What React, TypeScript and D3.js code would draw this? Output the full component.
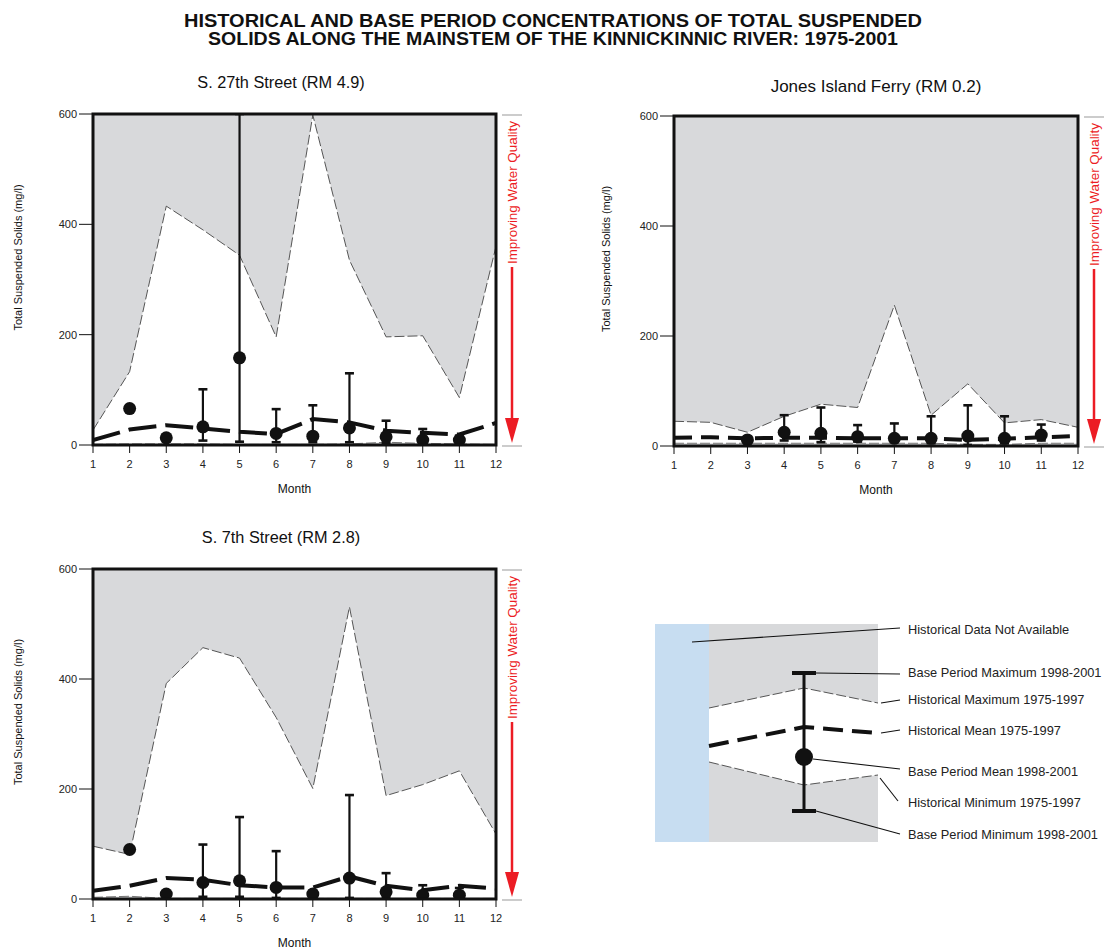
import React from "react";
import * as d3 from "d3";

// ---------- DATA ----------
const months = [1, 2, 3, 4, 5, 6, 7, 8, 9, 10, 11, 12];
const yTicks = [0, 200, 400, 600];

const s27HistMax = [27, 133, 433, 390, 344, 196, 598, 335, 196, 198, 86, 360];
const s27HistMean = [9, 28, 36, 30, 24, 20, 47, 41, 26, 22, 19, 40];
const s27HistMin = [1, 2, 2, 2, 1, 1, 1, 2, 5, 3, 2, 1];
const s27BaseMean = [null, 66, 13, 33, 158, 21, 16, 31, 15, 9, 9, null];
const s27BaseMax = [null, null, null, 101, 600, 65, 72, 130, 44, 29, 17, null];
const s27BaseMin = [null, null, null, 8, 6, 5, 5, 5, 4, 2, 3, null];

const jonesHistMax = [45, 43, 25, 54, 76, 70, 256, 56, 113, 42, 48, 34];
const jonesHistMean = [15, 16, 14, 15, 15, 14, 14, 14, 11, 13, 16, 18];
const jonesHistMin = [5, 5, 5, 5, 5, 5, 5, 5, 3, 3, 5, 5];
const jonesBaseMean = [null, null, 11, 25, 23, 17, 14, 14, 18, 14, 20, null];
const jonesBaseMax = [null, null, null, 56, 70, 38, 41, 54, 74, 54, 39, null];
const jonesBaseMin = [null, null, null, 10, 7, 8, 7, 5, 2, 5, 10, null];

const s7HistMax = [96, 81, 392, 457, 438, 330, 201, 531, 188, 208, 233, 118];
const s7HistMean = [15, 24, 38, 35, 25, 21, 21, 41, 24, 16, 24, 19];
const s7HistMin = [3, 5, 1, 1, 1, 1, 1, 1, 1, 1, 1, 1];
const s7BaseMean = [null, 90, 9, 30, 33, 21, 9, 38, 13, 7, 7, null];
const s7BaseMax = [null, null, null, 99, 149, 87, 15, 189, 47, 25, 20, null];
const s7BaseMin = [null, null, null, 4, 4, 2, 3, 2, 2, 2, 2, null];

// legend schematic values (3 points)
const legendX = [0, 1, 2];
const legendHistMax = [134, 154, 139];
const legendHistMean = [96, 115, 109];
const legendHistMin = [80, 57, 67];
const legendBase = { max: 169, mean: 85, min: 31 };

const titleLines = [
  "HISTORICAL AND BASE PERIOD CONCENTRATIONS OF TOTAL SUSPENDED",
  "SOLIDS ALONG THE MAINSTEM OF THE KINNICKINNIC RIVER: 1975-2001",
];
const titleWidths = [738, 690];

// ---------- STYLE ----------
const FONT = "'Liberation Sans', Arial, Helvetica, sans-serif";
const GRAY = "#d8d9db";
const RED = "#ec1c24";
const BLUE = "#c7ddf1";

type PanelProps = {
  title: string;
  left: number; right: number; top: number; bottom: number;
  titleX: number; titleY: number; titleSize: number; labelX: number;
  histMax: number[]; histMean: number[]; histMin: number[];
  baseMean: (number | null)[]; baseMax: (number | null)[]; baseMin: (number | null)[];
  meanDash: string;
};

function Panel(p: PanelProps) {
  const x = d3.scaleLinear().domain([1, 12]).range([p.left, p.right]);
  const y = d3.scaleLinear().domain([0, 600]).range([p.bottom, p.top]);
  const area = d3.area<number>()
    .x((_, i) => x(months[i]))
    .y0((_, i) => y(p.histMin[i]))
    .y1((_, i) => y(p.histMax[i]));
  const line = (arr: number[]) =>
    d3.line<number>().x((_, i) => x(months[i])).y((d) => y(d))(arr) as string;
  const arrowX = p.right + 16;
  const textStart = p.top + 150;
  const midY = (p.top + p.bottom) / 2;
  const clipId = "clip" + p.left + "_" + p.top;
  return (
    <g>
      <text x={p.titleX} y={p.titleY} textAnchor="middle" fontSize={p.titleSize} fontFamily={FONT} fill="#111">{p.title}</text>
      <defs>
        <clipPath id={clipId}>
          <rect x={p.left} y={p.top} width={p.right - p.left} height={p.bottom - p.top} />
        </clipPath>
      </defs>
      <rect x={p.left} y={p.top} width={p.right - p.left} height={p.bottom - p.top} fill={GRAY} />
      <g clipPath={`url(#${clipId})`}>
        <path d={area(p.histMax) as string} fill="#fff" />
        <path d={line(p.histMax)} fill="none" stroke="#444" strokeWidth={0.9} strokeDasharray="10 3" />
        <path d={line(p.histMin)} fill="none" stroke="#666" strokeWidth={0.9} strokeDasharray="10 3" />
        <path d={line(p.histMean)} fill="none" stroke="#111" strokeWidth={4} strokeDasharray={p.meanDash} />
        {months.map((m, i) => {
          const mx = p.baseMax[i], mn = p.baseMin[i];
          if (mx == null || mn == null) return null;
          return (
            <g key={"e" + m}>
              <line x1={x(m)} x2={x(m)} y1={y(mx)} y2={y(mn)} stroke="#111" strokeWidth={2.2} />
              <line x1={x(m) - 4.5} x2={x(m) + 4.5} y1={y(mx)} y2={y(mx)} stroke="#111" strokeWidth={2.6} />
              <line x1={x(m) - 4.5} x2={x(m) + 4.5} y1={y(mn)} y2={y(mn)} stroke="#111" strokeWidth={2.6} />
            </g>
          );
        })}
        {months.map((m, i) => {
          const v = p.baseMean[i];
          if (v == null) return null;
          return <circle key={"c" + m} cx={x(m)} cy={y(v)} r={6.5} fill="#111" />;
        })}
      </g>
      <rect x={p.left} y={p.top} width={p.right - p.left} height={p.bottom - p.top} fill="none" stroke="#111" strokeWidth={3} />
      {yTicks.map((t) => (
        <g key={"y" + t}>
          <line x1={p.left - 14} x2={p.left} y1={y(t)} y2={y(t)} stroke="#111" strokeWidth={1} />
          <text x={p.left - 16} y={y(t) + 4} textAnchor="end" fontSize={11} fontFamily={FONT} fill="#222">{t}</text>
        </g>
      ))}
      {months.map((m) => (
        <g key={"x" + m}>
          <line x1={x(m)} x2={x(m)} y1={p.bottom} y2={p.bottom + 8} stroke="#111" strokeWidth={1} />
          <text x={x(m)} y={p.bottom + 23} textAnchor="middle" fontSize={11} fontFamily={FONT} fill="#222">{m}</text>
        </g>
      ))}
      <text x={(p.left + p.right) / 2} y={p.bottom + 48} textAnchor="middle" fontSize={12} fontFamily={FONT} fill="#111">Month</text>
      <text transform={`translate(${p.labelX + 4},${midY - 22}) rotate(-90)`} textAnchor="middle" fontSize={11} fontFamily={FONT} fill="#111">Total Suspended Solids (mg/l)</text>
      {/* improving water quality */}
      <line x1={p.right + 6} x2={p.right + 26} y1={p.top + 1} y2={p.top + 1} stroke="#999" strokeWidth={1} />
      <line x1={p.right + 6} x2={p.right + 26} y1={p.bottom + 1} y2={p.bottom + 1} stroke="#999" strokeWidth={1} />
      <text transform={`translate(${arrowX + 4.5},${textStart}) rotate(-90)`} textAnchor="start" fontSize={12.5} textLength={143} lengthAdjust="spacingAndGlyphs" fontFamily={FONT} fill={RED}>Improving Water Quality</text>
      <line x1={arrowX} x2={arrowX} y1={textStart + 3} y2={p.bottom - 22} stroke={RED} strokeWidth={2.5} />
      <path d={`M${arrowX - 7},${p.bottom - 27} L${arrowX + 7},${p.bottom - 27} L${arrowX},${p.bottom - 2} Z`} fill={RED} />
    </g>
  );
}

function Legend() {
  const gx0 = 709, gx1 = 878;
  const x = d3.scaleLinear().domain([0, 1, 2]).range([gx0, 804, gx1]);
  const y = d3.scaleLinear().domain([0, 218]).range([842, 624]);
  const ln = (arr: number[]) => d3.line<number>().x((_, i) => x(legendX[i])).y((d) => y(d))(arr) as string;
  const ar = d3.area<number>().x((_, i) => x(legendX[i])).y0((_, i) => y(legendHistMin[i])).y1((d) => y(d));
  const bx = x(1);
  const labels = [
    { t: "Historical Data Not Available", y: 634 },
    { t: "Base Period Maximum 1998-2001", y: 677 },
    { t: "Historical Maximum 1975-1997", y: 704 },
    { t: "Historical Mean 1975-1997", y: 735 },
    { t: "Base Period Mean 1998-2001", y: 776 },
    { t: "Historical Minimum 1975-1997", y: 807 },
    { t: "Base Period Minimum 1998-2001", y: 839 },
  ];
  return (
    <g>
      <rect x={655} y={y(218)} width={gx0 - 655} height={y(0) - y(218)} fill={BLUE} />
      <rect x={gx0} y={y(218)} width={gx1 - gx0} height={y(0) - y(218)} fill={GRAY} />
      <path d={ar(legendHistMax) as string} fill="#fff" />
      <path d={ln(legendHistMax)} fill="none" stroke="#444" strokeWidth={0.9} strokeDasharray="10 3" />
      <path d={ln(legendHistMin)} fill="none" stroke="#444" strokeWidth={0.9} strokeDasharray="10 3" />
      <path d={ln(legendHistMean)} fill="none" stroke="#111" strokeWidth={4} strokeDasharray="20 9" />
      <line x1={bx} x2={bx} y1={y(legendBase.max)} y2={y(legendBase.min)} stroke="#111" strokeWidth={3} />
      <line x1={bx - 12} x2={bx + 12} y1={y(legendBase.max)} y2={y(legendBase.max)} stroke="#111" strokeWidth={4} />
      <line x1={bx - 12} x2={bx + 12} y1={y(legendBase.min)} y2={y(legendBase.min)} stroke="#111" strokeWidth={4} />
      <circle cx={bx} cy={y(legendBase.mean)} r={9} fill="#111" />
      {/* leader lines */}
      <g stroke="#111" strokeWidth={1.1}>
        <line x1={692} y1={642} x2={900} y2={628} />
        <line x1={bx + 12} y1={y(legendBase.max)} x2={900} y2={674} />
        <line x1={881} y1={703} x2={900} y2={700} />
        <line x1={881} y1={733} x2={900} y2={730} />
        <line x1={bx + 9} y1={y(legendBase.mean) + 2} x2={900} y2={769} />
        <line x1={880} y1={778} x2={898} y2={801} />
        <line x1={bx + 12} y1={y(legendBase.min)} x2={900} y2={834} />
      </g>
      {labels.map((l) => (
        <text key={l.t} x={908} y={l.y} fontSize={12.8} fontFamily={FONT} fill="#222">{l.t}</text>
      ))}
    </g>
  );
}

export default function App() {
  return (
    <svg width={1107} height={949} style={{ position: "absolute", left: 0, top: 0, background: "#fff" }}>
      <rect width={1107} height={949} fill="#fff" />
      {titleLines.map((t, i) => (
        <text key={i} x={553} y={27 + i * 18} textAnchor="middle" fontSize={18} fontWeight="bold" fontFamily={FONT} fill="#111"
          textLength={titleWidths[i]} lengthAdjust="spacingAndGlyphs">{t}</text>
      ))}
      <Panel title="S. 27th Street (RM 4.9)" left={93} right={496} top={114} bottom={445} titleX={281} titleY={88} titleSize={16.3} labelX={18}
        histMax={s27HistMax} histMean={s27HistMean} histMin={s27HistMin}
        baseMean={s27BaseMean} baseMax={s27BaseMax} baseMin={s27BaseMin} meanDash="28 9" />
      <Panel title="Jones Island Ferry (RM 0.2)" left={674} right={1078} top={116} bottom={446} titleX={876} titleY={92} titleSize={17} labelX={606}
        histMax={jonesHistMax} histMean={jonesHistMean} histMin={jonesHistMin}
        baseMean={jonesBaseMean} baseMax={jonesBaseMax} baseMin={jonesBaseMin} meanDash="18 9" />
      <Panel title="S. 7th Street (RM 2.8)" left={93} right={496} top={569} bottom={899} titleX={281} titleY={543} titleSize={16.3} labelX={18}
        histMax={s7HistMax} histMean={s7HistMean} histMin={s7HistMin}
        baseMean={s7BaseMean} baseMax={s7BaseMax} baseMin={s7BaseMin} meanDash="28 9" />
      <Legend />
    </svg>
  );
}
